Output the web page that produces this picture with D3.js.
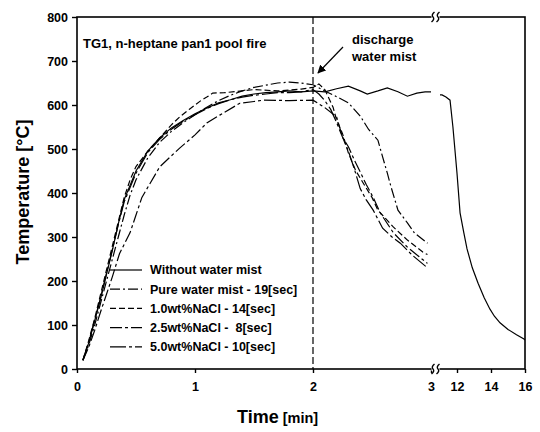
<!DOCTYPE html>
<html>
<head>
<meta charset="utf-8">
<script src="https://cdn.jsdelivr.net/npm/d3@7"></script>
<style>
  body { margin: 0; background: #fff; }
  svg { display: block; font-family: "Liberation Sans", Arial, sans-serif; }
</style>
</head>
<body>
<div id="chart"></div>
<script>
// ---- data ----
const yTicks = [0, 100, 200, 300, 400, 500, 600, 700, 800];
const xTicksEarly = [0, 1, 2, 3];
const xTicksLate = [12, 14, 16];
const dischargeTime = 2;

const tWithout = [0.05, 0.1, 0.15, 0.2, 0.25, 0.3, 0.35, 0.4, 0.5, 0.6, 0.7, 0.8, 0.9, 1.0, 1.1, 1.2, 1.3, 1.4, 1.5, 1.6, 1.7, 1.8, 1.9, 2.0, 2.1, 2.2, 2.3, 2.4, 2.46, 2.55, 2.63, 2.72, 2.8, 2.88, 2.95, 3.0];
const tempWithout = [20, 60, 110, 160, 215, 270, 330, 385, 450, 495, 525, 548, 565, 580, 593, 605, 612, 620, 625, 628, 630, 632, 630, 632, 630, 637, 643, 632, 625, 632, 639, 630, 620, 627, 630, 630];
const tWithoutLate = [11.0, 11.12, 11.35, 11.59, 11.76, 12.0, 12.18, 12.4, 12.59, 12.9, 13.24, 13.6, 13.94, 14.2, 14.53, 15.0, 15.5, 15.94, 16.0];
const tempWithoutLate = [623, 623, 618, 611, 550, 445, 355, 310, 273, 230, 195, 162, 136, 120, 105, 90, 78, 68, 66];

const tPure = [0.05, 0.1, 0.15, 0.2, 0.25, 0.3, 0.35, 0.4, 0.45, 0.5, 0.6, 0.7, 0.8, 0.9, 1.0, 1.1, 1.2, 1.3, 1.4, 1.5, 1.6, 1.7, 1.8, 1.9, 2.0, 2.1, 2.17, 2.3, 2.4, 2.47, 2.55, 2.59, 2.63, 2.66, 2.72, 2.8, 2.86, 2.97];
const tempPure = [20, 55, 100, 150, 200, 250, 300, 350, 395, 430, 480, 515, 540, 560, 578, 595, 610, 622, 632, 640, 645, 650, 652, 650, 646, 632, 623, 605, 575, 545, 520, 482, 445, 415, 361, 332, 309, 286];

const tNacl10 = [0.05, 0.1, 0.15, 0.2, 0.25, 0.3, 0.35, 0.4, 0.45, 0.5, 0.6, 0.7, 0.8, 0.87, 0.95, 1.05, 1.1, 1.15, 1.25, 1.4, 1.5, 1.7, 1.9, 2.0, 2.05, 2.1, 2.17, 2.2, 2.25, 2.3, 2.36, 2.42, 2.5, 2.55, 2.68, 2.8, 2.93, 2.97];
const tempNacl10 = [20, 65, 115, 170, 225, 280, 335, 390, 430, 460, 495, 525, 555, 573, 590, 610, 618, 627, 628, 632, 635, 632, 636, 640, 648, 635, 595, 566, 535, 491, 452, 425, 390, 361, 323, 293, 266, 260];

const tNacl25 = [0.05, 0.1, 0.15, 0.2, 0.25, 0.3, 0.36, 0.45, 0.5, 0.55, 0.7, 0.79, 0.87, 1.0, 1.1, 1.21, 1.38, 1.5, 1.58, 1.8, 2.0, 2.1, 2.2, 2.25, 2.3, 2.35, 2.4, 2.45, 2.51, 2.57, 2.68, 2.8, 2.9, 2.97];
const tempNacl25 = [20, 50, 88, 130, 170, 210, 262, 310, 350, 390, 459, 482, 502, 532, 559, 577, 604, 608, 611, 610, 611, 594, 573, 527, 505, 475, 448, 420, 390, 355, 310, 277, 255, 240];

const tNacl50 = [0.05, 0.1, 0.15, 0.2, 0.25, 0.3, 0.35, 0.4, 0.5, 0.6, 0.7, 0.8, 0.9, 1.0, 1.1, 1.2, 1.3, 1.4, 1.5, 1.6, 1.7, 1.8, 1.9, 2.0, 2.05, 2.1, 2.15, 2.2, 2.25, 2.3, 2.35, 2.4, 2.45, 2.51, 2.59, 2.67, 2.74, 2.84, 2.97];
const tempNacl50 = [20, 62, 112, 162, 218, 272, 328, 380, 445, 492, 522, 545, 563, 578, 592, 603, 612, 618, 622, 625, 628, 628, 630, 635, 625, 610, 590, 560, 527, 495, 455, 410, 385, 361, 320, 300, 286, 259, 230];

const legendLabels = ["Without water mist", "Pure water mist - 19[sec]", "1.0wt%NaCl - 14[sec]", "2.5wt%NaCl -  8[sec]", "5.0wt%NaCl - 10[sec]"];
const legendDashes = ["none", "10,3,2,3", "6,3", "12,3,3,3", "16,3,3,3"];

// ---- layout ----
const W = 540, H = 432;
const margin = {top: 17, left: 77};
const width = 448, height = 352;
const breakGap = 9;

const svg = d3.select("#chart").append("svg")
  .attr("width", W)
  .attr("height", H);

const g = svg.append("g")
  .attr("transform", "translate(" + margin.left + "," + margin.top + ")");

const y = d3.scaleLinear().domain([0, 800]).range([height, 0]);
const xEarly = d3.scaleLinear().domain([0, 3]).range([0, 354]);
const xLate = d3.scaleLinear().domain([11, 16]).range([354 + breakGap, width]);
const breakX = xEarly(3) + breakGap / 2;

// frame
g.append("rect")
  .attr("width", width)
  .attr("height", height)
  .attr("style", "fill:none;stroke:#000;stroke-width:1.6px;");

// y axis
const yAxis = g.append("g")
  .call(d3.axisLeft(y).tickValues(yTicks).tickSize(5).tickPadding(4));
yAxis.select(".domain").remove();

// x axis, two segments
const xAxisEarly = g.append("g")
  .attr("transform", "translate(0," + height + ")")
  .call(d3.axisBottom(xEarly).tickValues(xTicksEarly).tickSize(4).tickPadding(9).tickFormat(d3.format("d")));
xAxisEarly.select(".domain").remove();

const xAxisLate = g.append("g")
  .attr("transform", "translate(0," + height + ")")
  .call(d3.axisBottom(xLate).tickValues(xTicksLate).tickSize(4).tickPadding(9).tickFormat(d3.format("d")));
xAxisLate.select(".domain").remove();

g.selectAll(".tick text")
  .attr("style", "font-family:'Liberation Sans',Arial,sans-serif;font-size:12.5px;font-weight:bold;fill:#000;");
g.selectAll(".tick line")
  .attr("style", "stroke:#000;stroke-width:1.4px;");

// axis breaks on top and bottom edge
[0, height].forEach(function (yy) {
  g.append("rect")
    .attr("x", breakX - 4)
    .attr("y", yy - 2)
    .attr("width", 8)
    .attr("height", 4)
    .attr("fill", "#fff");
  [-2.5, 2.5].forEach(function (dx) {
    const p = d3.path();
    p.moveTo(breakX + dx + 1.5, yy - 5);
    p.quadraticCurveTo(breakX + dx - 2, yy - 2, breakX + dx, yy);
    p.quadraticCurveTo(breakX + dx + 2, yy + 2, breakX + dx - 1.5, yy + 5);
    g.append("path")
      .attr("d", p.toString())
      .attr("style", "fill:none;stroke:#000;stroke-width:1.4px;");
  });
});

// discharge line
g.append("line")
  .attr("x1", xEarly(dischargeTime))
  .attr("x2", xEarly(dischargeTime))
  .attr("y1", 0)
  .attr("y2", height)
  .attr("style", "stroke:#000;stroke-width:1.2px;stroke-dasharray:7,3;");

// curves
const lineEarly = d3.line()
  .x(d => xEarly(d[0]))
  .y(d => y(d[1]));
const lineLate = d3.line()
  .x(d => xLate(d[0]))
  .y(d => y(d[1]));

const zip = (a, b) => a.map((v, i) => [v, b[i]]);

const series = [
  {t: tWithout, v: tempWithout, dash: legendDashes[0]},
  {t: tPure, v: tempPure, dash: legendDashes[1]},
  {t: tNacl10, v: tempNacl10, dash: legendDashes[2]},
  {t: tNacl25, v: tempNacl25, dash: legendDashes[3]},
  {t: tNacl50, v: tempNacl50, dash: legendDashes[4]}
];

series.forEach(function (s) {
  g.append("path")
    .datum(zip(s.t, s.v))
    .attr("d", lineEarly)
    .attr("style", "fill:none;stroke:#000;stroke-width:1.2px;stroke-dasharray:" + s.dash + ";");
});

g.append("path")
  .datum(zip(tWithoutLate, tempWithoutLate))
  .attr("d", lineLate)
  .attr("style", "fill:none;stroke:#000;stroke-width:1.2px;");

// legend
const legend = g.append("g")
  .attr("transform", "translate(33,253)");
legendLabels.forEach(function (label, i) {
  const row = legend.append("g")
    .attr("transform", "translate(0," + (i * 19.2) + ")");
  row.append("line")
    .attr("x1", 0)
    .attr("x2", 32)
    .attr("style", "stroke:#000;stroke-width:1.2px;stroke-dasharray:" + legendDashes[i] + ";");
  row.append("text")
    .attr("x", 40)
    .attr("dy", "0.35em")
    .attr("style", "font-size:12.5px;font-weight:bold;white-space:pre;")
    .text(label);
});

// annotations
g.append("text")
  .attr("x", 6)
  .attr("y", 31)
  .attr("style", "font-size:13px;font-weight:bold;")
  .text("TG1, n-heptane pan1 pool fire");

g.append("text")
  .attr("x", 275)
  .attr("y", 27)
  .attr("style", "font-size:13px;font-weight:bold;")
  .text("discharge");
g.append("text")
  .attr("x", 275)
  .attr("y", 44)
  .attr("style", "font-size:13px;font-weight:bold;")
  .text("water mist");

svg.append("defs").append("marker")
  .attr("id", "arrow")
  .attr("viewBox", "0 0 10 10")
  .attr("refX", 9)
  .attr("refY", 5)
  .attr("markerWidth", 7)
  .attr("markerHeight", 7)
  .attr("orient", "auto")
  .append("path")
  .attr("d", "M0,0L10,5L0,10z")
  .attr("fill", "#000");

g.append("line")
  .attr("x1", 266)
  .attr("y1", 30)
  .attr("x2", xEarly(dischargeTime) + 5)
  .attr("y2", 56)
  .attr("marker-end", "url(#arrow)")
  .attr("style", "stroke:#000;stroke-width:1.2px;");

// axis titles
svg.append("text")
  .attr("transform", "translate(29,192) rotate(-90)")
  .attr("text-anchor", "middle")
  .attr("style", "font-size:18px;font-weight:bold;")
  .text("Temperature [°C]");

const xTitle = svg.append("text")
  .attr("x", 237)
  .attr("y", 423)
  .attr("style", "font-weight:bold;");
xTitle.append("tspan").attr("style", "font-size:18px;").text("Time");
xTitle.append("tspan").attr("dx", 4).attr("style", "font-size:14.5px;").text("[min]");
</script>
</body>
</html>
